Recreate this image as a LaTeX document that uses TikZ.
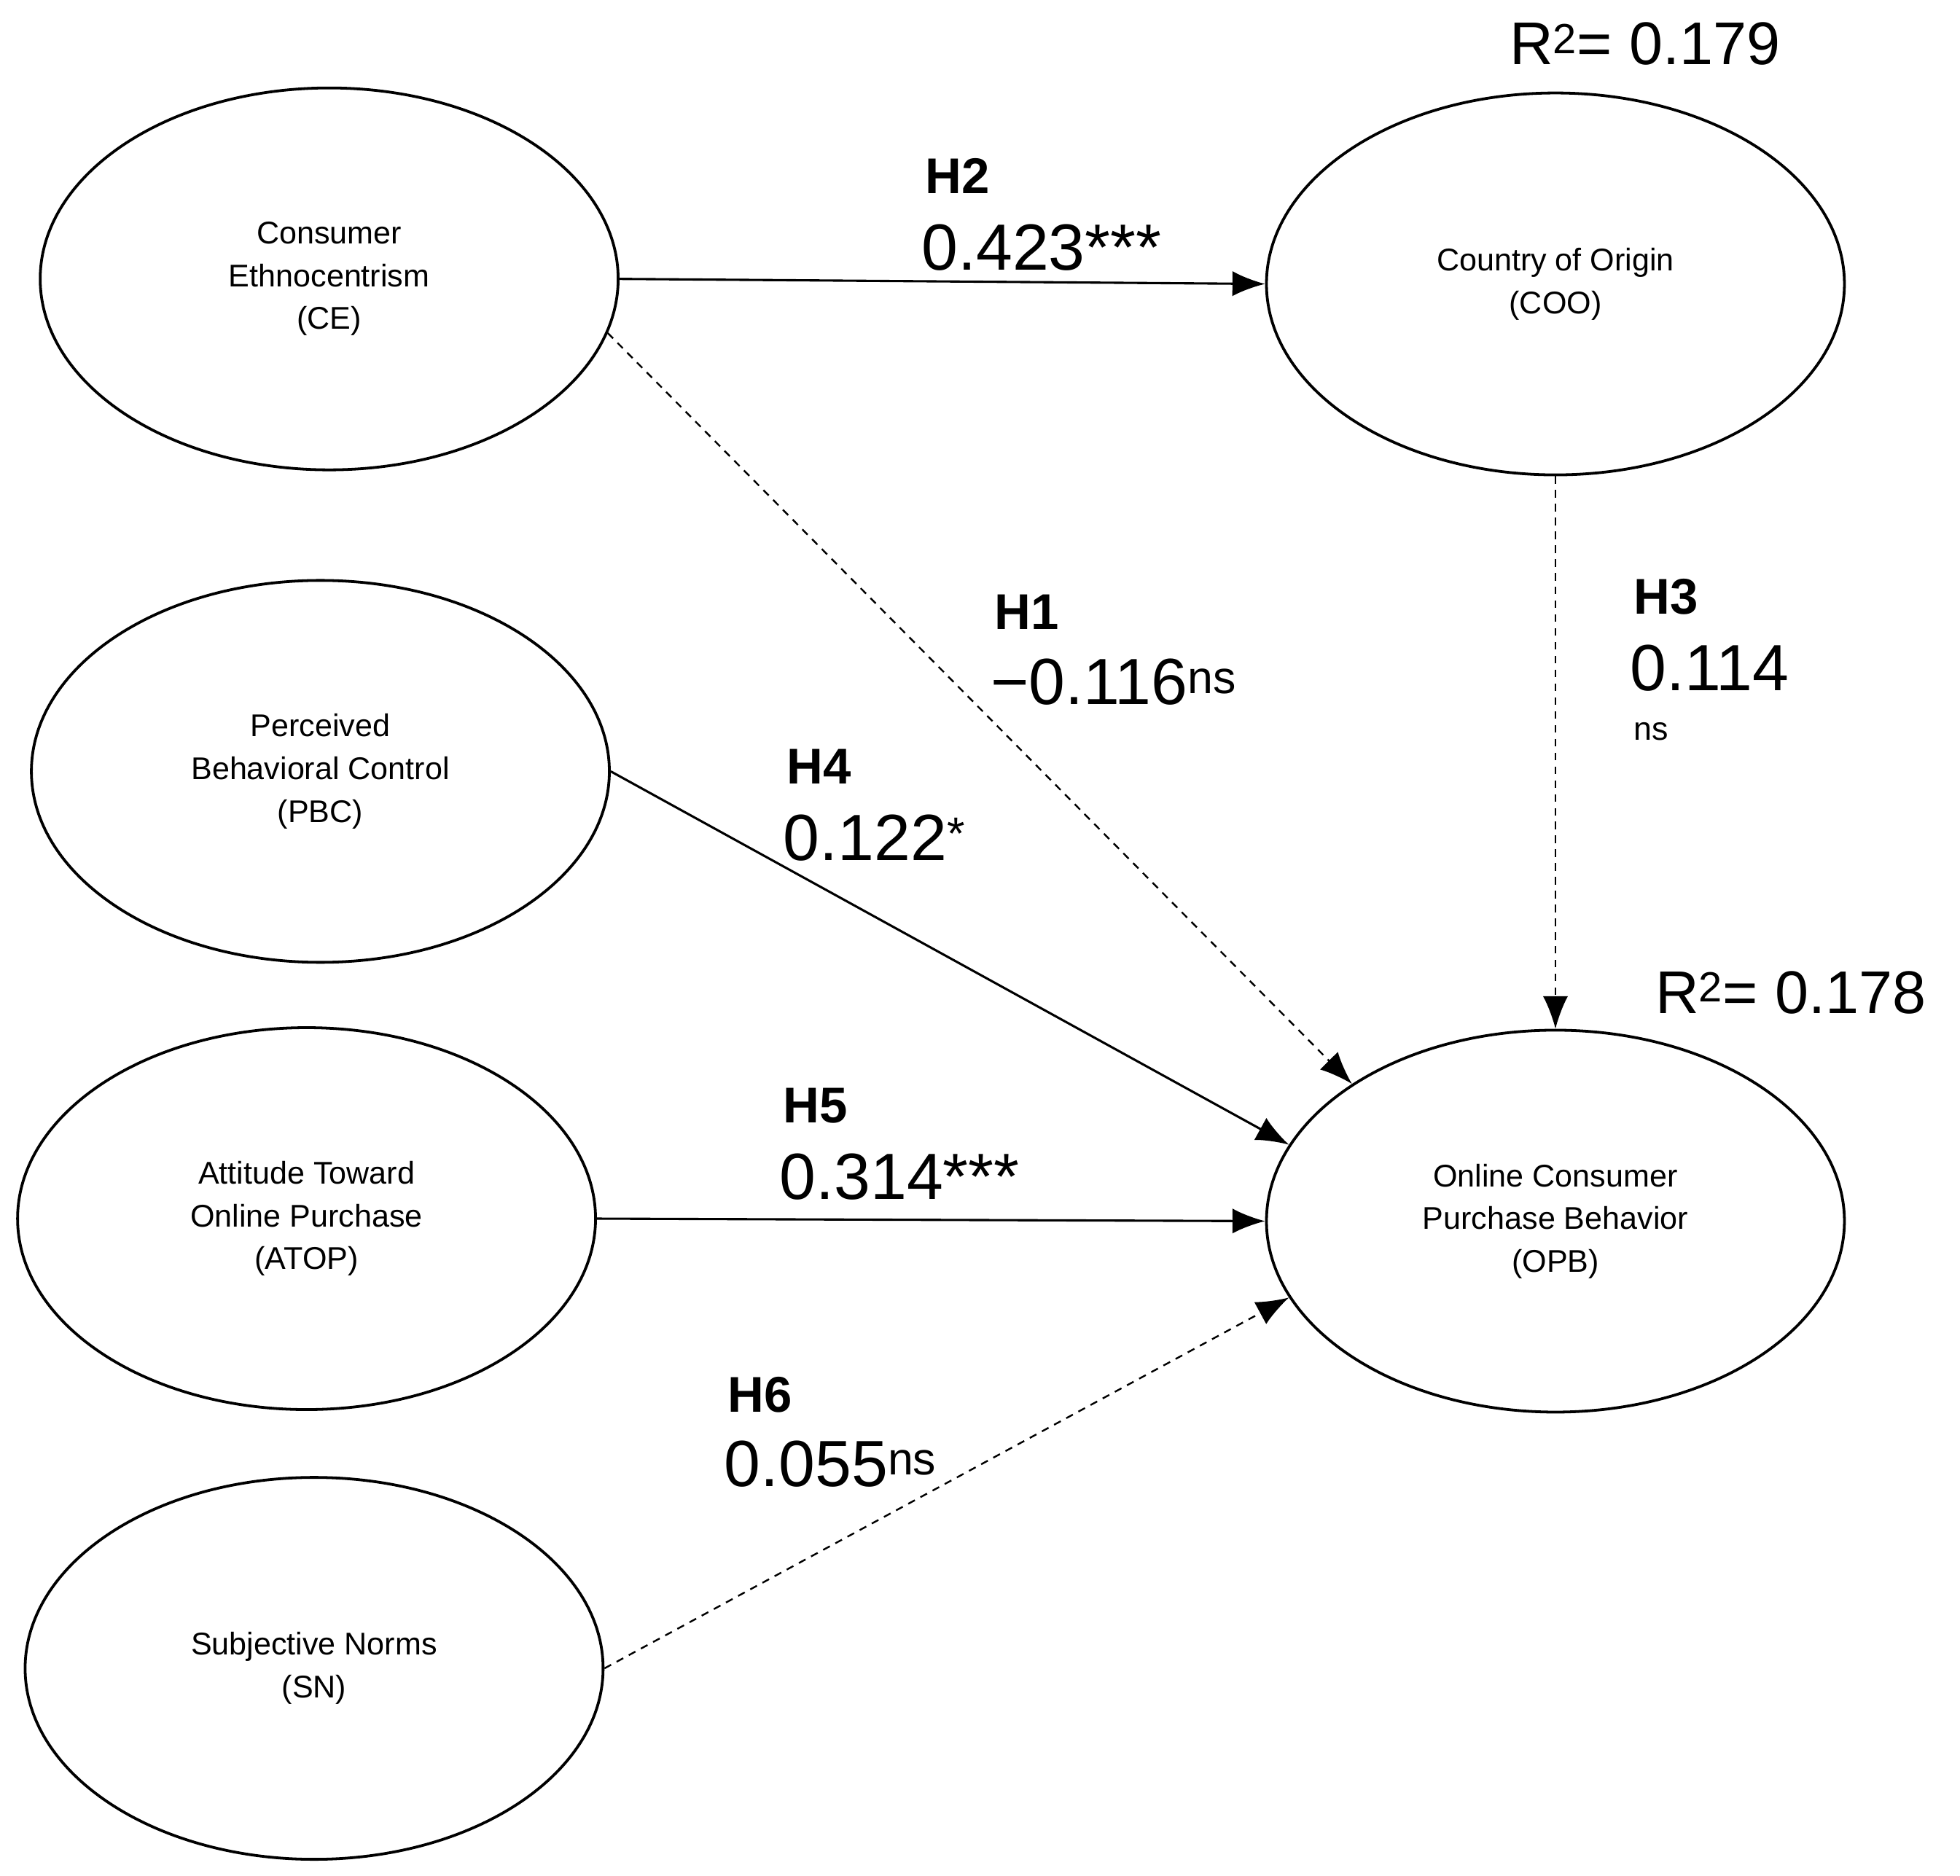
\documentclass[tikz,border=0pt]{standalone}
\usepackage{fontspec}
\setmainfont{Liberation Sans}
\usetikzlibrary{shapes.geometric,arrows.meta}
\begin{document}
\begin{tikzpicture}[x=1pt,y=-1pt,
  cons/.style={draw,ellipse,line width=2.2pt,minimum width=460pt,minimum height=304pt,align=center,font=\fontsize{25}{34}\selectfont},
  arr/.style={line width=1.8pt,-{Latex[length=26pt,width=20pt]}},
  dsh/.style={arr,dash pattern=on 6pt off 5pt,line width=1.4pt},
  hl/.style={font=\fontsize{40}{44}\selectfont\bfseries,anchor=west},
  nl/.style={font=\fontsize{52}{56}\selectfont,anchor=west}]
\useasboundingbox (0,0) rectangle (1560,1493);
\node[cons] (CE) at (262,222) {Consumer\\Ethnocentrism\\(CE)};
\node[cons] (COO) at (1238,226) {Country of Origin\\(COO)};
\node[cons] (PBC) at (255,614) {Perceived\\Behavioral Control\\(PBC)};
\node[cons] (ATOP) at (244,970) {Attitude Toward\\Online Purchase\\(ATOP)};
\node[cons] (SN) at (250,1328) {Subjective Norms\\(SN)};
\node[cons] (OPB) at (1238,972) {Online Consumer\\Purchase Behavior\\(OPB)};
\draw[arr] (CE.east) -- (COO.west);
\draw[dsh] (CE.-11) -- (OPB.146);
\draw[dsh] (COO.south) -- (OPB.north);
\draw[arr] (PBC.east) -- (OPB.164);
\draw[arr] (ATOP.east) -- (OPB.west);
\draw[dsh] (SN.east) -- (OPB.196);
\node[nl,font=\fontsize{48}{52}\selectfont] (r1) at (1198,35) {R\textsuperscript{2}= 0.179};
\node[nl,font=\fontsize{48}{52}\selectfont] (r2) at (1314,790) {R\textsuperscript{2}= 0.178};
\node[hl] (h2) at (733,140) {H2};
\node[nl] (v2) at (730,197) {0.423***};
\node[hl] (h1) at (788,487) {H1};
\node[nl] (v1) at (785,543) {−0.116\textsuperscript{ns}};
\node[hl] (h3) at (1297,475) {H3};
\node[nl] (v3) at (1294,532) {0.114};
\node[font=\fontsize{26}{28}\selectfont,anchor=west] (n3) at (1297,582) {ns};
\node[hl] (h4) at (623,610) {H4};
\node[nl] (v4) at (620,667) {0.122\textsuperscript{*}};
\node[hl] (h5) at (620,880) {H5};
\node[nl] (v5) at (617,937) {0.314***};
\node[hl] (h6) at (576,1110) {H6};
\node[nl] (v6) at (573,1165) {0.055\textsuperscript{ns}};
\end{tikzpicture}
\end{document}
